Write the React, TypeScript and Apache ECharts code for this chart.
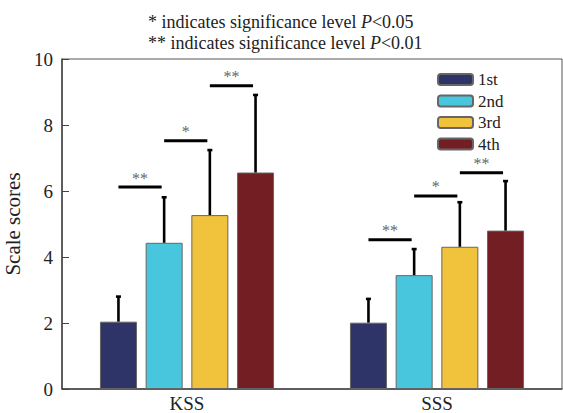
import React, { useEffect, useRef } from "react";
import * as echarts from "echarts";

const categories = ["KSS", "SSS"];
const seriesNames = ["1st", "2nd", "3rd", "4th"];
const colors = ["#2f3468", "#48c6de", "#f1c23b", "#721e22"];
const means1st = [2.04, 2.01];
const means2nd = [4.43, 3.45];
const means3rd = [5.27, 4.31];
const means4th = [6.56, 4.8];
const sd1st = [0.76, 0.72];
const sd2nd = [1.38, 0.79];
const sd3rd = [1.97, 1.35];
const sd4th = [2.35, 1.5];
// significance markers: [category index, level, left bar index, label]
const sigKSS = [
  [0, 6.12, 0, "**"],
  [0, 7.52, 1, "*"],
  [0, 9.19, 2, "**"],
];
const sigSSS = [
  [1, 4.52, 0, "**"],
  [1, 5.85, 1, "*"],
  [1, 6.55, 2, "**"],
];
const yTicks = { min: 0, max: 10, interval: 2 };

const FONT = "Liberation Serif, Times New Roman, serif";
const BAR_W = 37;
const BAR_STEP = 45.7;

export default function App() {
  const ref = useRef<HTMLDivElement>(null);
  useEffect(() => {
    if (!ref.current) return;
    const chart = echarts.init(ref.current, undefined, { renderer: "svg" });
    const means = [means1st, means2nd, means3rd, means4th];
    const sds = [sd1st, sd2nd, sd3rd, sd4th];

    const errData: any[] = [];
    means.forEach((m, k) =>
      m.forEach((v, c) => errData.push([c, v, sds[k][c], k]))
    );
    const sigData = [...sigKSS, ...sigSSS];

    const barSeries = seriesNames.map((name, k) => ({
      name,
      type: "bar",
      data: means[k],
      barWidth: BAR_W,
      barGap: ((BAR_STEP - BAR_W) / BAR_W * 100).toFixed(1) + "%",
      itemStyle: { color: colors[k], borderColor: "#666", borderWidth: 1 },
    }));

    const txt = { fontSize: 18, fontFamily: FONT, color: "#222", lineHeight: 21, fontWeight: "normal" };

    const option: any = {
      animation: false,
      title: {
        left: 148,
        top: 11,
        padding: 0,
        text:
          "{a|* indicates significance level }{i|P}{a|<0.05}\n{a|** indicates significance level }{i|P}{a|<0.01}",
        textStyle: {
          fontWeight: "normal",
          fontFamily: FONT,
          rich: {
            a: txt,
            i: { ...txt, fontStyle: "italic" },
          },
        },
      },
      legend: {
        data: seriesNames,
        orient: "vertical",
        left: 437,
        top: 71,
        padding: 0,
        itemWidth: 35,
        itemHeight: 11,
        itemGap: 4.5,
        textStyle: { fontSize: 17, fontFamily: FONT, color: "#222", lineHeight: 12 },
      },
      grid: {
        left: 62,
        right: 1,
        top: 59,
        bottom: 24,
        show: true,
        borderColor: "#555",
        borderWidth: 1,
        containLabel: false,
        outerBoundsMode: "none",
      },
      xAxis: {
        type: "category",
        data: categories,
        axisLine: { lineStyle: { color: "#444", width: 1.5 } },
        axisTick: { inside: true, alignWithLabel: true, length: 5, lineStyle: { color: "#888" } },
        axisLabel: { fontSize: 19, fontFamily: FONT, color: "#222", margin: 5, lineHeight: 19 },
      },
      yAxis: {
        type: "value",
        min: yTicks.min,
        max: yTicks.max,
        interval: yTicks.interval,
        name: "Scale scores",
        nameLocation: "middle",
        nameGap: 29,
        nameTextStyle: { fontSize: 21, fontFamily: FONT, color: "#222" },
        splitLine: { show: false },
        axisLine: { show: true, lineStyle: { color: "#444", width: 1.5 } },
        axisTick: { show: true, inside: true, length: 7, lineStyle: { color: "#444" } },
        axisLabel: { fontSize: 19, fontFamily: FONT, color: "#222", margin: 9 },
      },
      series: [
        ...barSeries,
        {
          type: "custom",
          z: 5,
          clip: false,
          data: errData,
          renderItem: (params: any, api: any) => {
            const c = api.value(0);
            const v = api.value(1);
            const sd = api.value(2);
            const k = api.value(3);
            const dx = (k - 1.5) * BAR_STEP;
            const base = api.coord([c, v]);
            const top = api.coord([c, v + sd]);
            const x = base[0] + dx;
            const st = { stroke: "#000", lineWidth: 2.6 };
            return {
              type: "group",
              children: [
                { type: "line", shape: { x1: x, y1: base[1], x2: x, y2: top[1] }, style: st },
                { type: "line", shape: { x1: x - 2.5, y1: top[1], x2: x + 2.5, y2: top[1] }, style: st },
              ],
            };
          },
        },
        {
          type: "custom",
          z: 5,
          clip: false,
          data: sigData,
          renderItem: (params: any, api: any) => {
            const item = sigData[params.dataIndex];
            const c = item[0] as number;
            const lvl = item[1] as number;
            const k = item[2] as number;
            const label = item[3] as string;
            const p = api.coord([c, lvl]);
            const x1 = p[0] + (k - 1.5) * BAR_STEP;
            const x2 = x1 + BAR_STEP - 2.5;
            return {
              type: "group",
              children: [
                { type: "line", shape: { x1, y1: p[1], x2, y2: p[1] }, style: { stroke: "#000", lineWidth: 3 } },
                {
                  type: "text",
                  x: (x1 + x2) / 2,
                  y: p[1] - 9,
                  style: {
                    text: label,
                    fontSize: 16,
                    fontFamily: FONT,
                    fill: "#666",
                    align: "center",
                    verticalAlign: "middle",
                  },
                },
              ],
            };
          },
        },
      ],
    };
    chart.setOption(option);
    return () => chart.dispose();
  }, []);
  return (
    <div
      ref={ref}
      style={{ position: "fixed", left: 0, top: 0, width: 563, height: 413, background: "#fff" }}
    />
  );
}
